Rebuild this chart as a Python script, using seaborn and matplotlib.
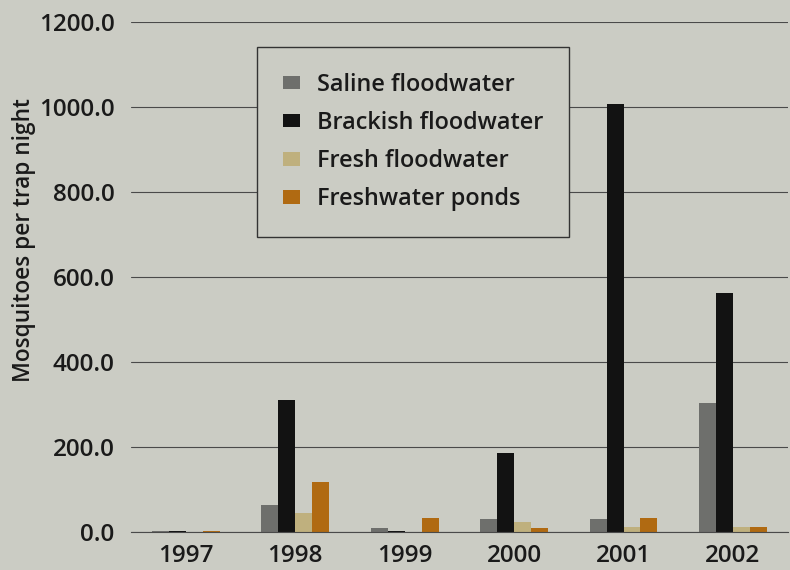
import pandas as pd
import matplotlib.pyplot as plt
import seaborn as sns

# Values
years = ['1997', '1998', '1999', '2000', '2001', '2002']
saline = [3, 63, 8, 30, 30, 303]
brackish = [1, 310, 2, 186, 1008, 562]
fresh = [0, 45, 0, 24, 11, 12]
ponds = [3, 118, 33, 9, 33, 12]

series = ['Saline floodwater', 'Brackish floodwater', 'Fresh floodwater', 'Freshwater ponds']
colors = ['#6e6f6c', '#121212', '#bfb07e', '#b06a12']

df = pd.DataFrame({
    'Year': years * 4,
    'Value': saline + brackish + fresh + ponds,
    'Habitat': [s for s in series for _ in years],
})

bg = '#cbccc4'
sns.set_style('white')
plt.rcParams['font.family'] = ['Open Sans', 'DejaVu Sans']

fig = plt.figure(figsize=(7.9, 5.7), dpi=100, facecolor=bg)
ax = fig.add_axes([0.166, 0.067, 0.831, 0.894])
ax.set_facecolor(bg)

sns.barplot(data=df, x='Year', y='Value', hue='Habitat', palette=colors,
            width=0.62, gap=0.0, saturation=1, linewidth=0, edgecolor='none',
            ax=ax, legend=True)

ax.set_xlim(-0.5, 5.5)
ax.set_ylim(0, 1200)
ax.set_yticks(range(0, 1201, 200))
ax.set_yticklabels([f'{v:.1f}' for v in range(0, 1201, 200)])
ax.grid(axis='y', color='#4a4a4a', linewidth=0.8)
ax.set_axisbelow(True)
for s in ['top', 'right', 'left']:
    ax.spines[s].set_visible(False)
ax.spines['bottom'].set_color('#4a4a4a')
ax.spines['bottom'].set_linewidth(0.8)

ax.tick_params(axis='y', length=8, width=0.8, color='#4a4a4a', pad=4,
               labelsize=17.5, labelcolor='#1a1a1a')
ax.tick_params(axis='x', length=0, pad=9, labelsize=17.5, labelcolor='#1a1a1a')
for lab in ax.get_xticklabels() + ax.get_yticklabels():
    lab.set_fontweight('semibold')

ax.set_xlabel('')
ax.set_ylabel('Mosquitoes per trap night', fontsize=16.3, fontweight='semibold',
              color='#1a1a1a')
ax.yaxis.set_label_coords(-0.145, 0.573)

leg = ax.legend(loc='upper left', bbox_to_anchor=(0.192, 0.951), frameon=True,
                fancybox=False, edgecolor='#333333', facecolor=bg, framealpha=1,
                fontsize=16.9, handlelength=0.72, handleheight=0.5, handletextpad=0.72,
                borderpad=1.1, labelspacing=0.6, borderaxespad=0)
leg.get_frame().set_linewidth(1.0)
for t in leg.get_texts():
    t.set_fontweight('semibold')
    t.set_color('#1a1a1a')

fig.savefig('out.png', dpi=100, facecolor=bg)
